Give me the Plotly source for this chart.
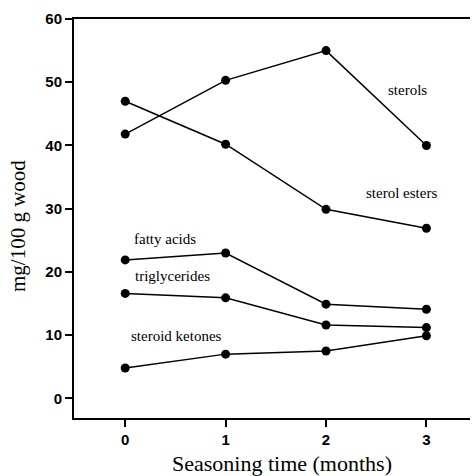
import plotly.graph_objects as go

months = [0, 1, 2, 3]
sterols = [41.8, 50.3, 55.0, 40.0]
sterol_esters = [47.0, 40.2, 29.9, 26.9]
fatty_acids = [21.9, 23.0, 14.9, 14.1]
triglycerides = [16.6, 15.9, 11.6, 11.2]
steroid_ketones = [4.8, 7.0, 7.5, 9.9]

series = [
    ("sterols", sterols),
    ("sterol esters", sterol_esters),
    ("fatty acids", fatty_acids),
    ("triglycerides", triglycerides),
    ("steroid ketones", steroid_ketones),
]

label_text = ["sterols", "sterol esters", "fatty acids", "triglycerides", "steroid ketones"]
label_x = [2.81, 2.75, 0.4, 0.47, 0.51]
label_y = [48.8, 32.5, 25.2, 19.4, 9.8]

x_title = "Seasoning time (months)"
y_title = "mg/100 g wood"

W, H = 472, 476
ML, MR, MT, MB = 74, 2, 19, 58
PW, PH = W - ML - MR, H - MT - MB

fig = go.Figure()
for name, vals in series:
    fig.add_trace(go.Scatter(
        x=months, y=vals, mode="lines+markers", name=name,
        line=dict(color="black", width=1.5),
        marker=dict(color="black", size=9),
        showlegend=False,
    ))

for t, x, y in zip(label_text, label_x, label_y):
    fig.add_annotation(x=x, y=y, text=t, showarrow=False,
                       font=dict(family="Liberation Serif", size=15, color="black"))

fig.add_annotation(xref="paper", yref="paper", x=(282 - ML) / PW, y=(H - MB - 463) / PH,
                   text=x_title, showarrow=False, xanchor="center", yanchor="middle",
                   font=dict(family="Liberation Serif", size=22, color="black"))
fig.add_annotation(xref="paper", yref="paper", x=(18 - ML) / PW, y=(H - MB - 226) / PH,
                   text=y_title, showarrow=False, textangle=-90, xanchor="center", yanchor="middle",
                   font=dict(family="Liberation Serif", size=21, color="black"))

fig.update_layout(
    width=W, height=H,
    margin=dict(l=ML, r=MR, t=MT, b=MB),
    plot_bgcolor="white", paper_bgcolor="white",
    xaxis=dict(
        range=[-0.51, 3.434], tickvals=months, ticktext=[str(m) for m in months],
        automargin=False,
        showline=True, linecolor="black", linewidth=2, mirror=True,
        ticks="outside", ticklen=7, tickwidth=1.5, tickcolor="black",
        showgrid=False, zeroline=False,
        tickfont=dict(family="Liberation Sans", size=15, color="black", weight="bold"),
    ),
    yaxis=dict(
        range=[-3.1, 60], tickvals=[0, 10, 20, 30, 40, 50, 60],
        automargin=False,
        showline=True, linecolor="black", linewidth=2,
        ticks="outside", ticklen=7, tickwidth=1.5, tickcolor="black",
        showgrid=False, zeroline=False,
        tickfont=dict(family="Liberation Sans", size=15, color="black", weight="bold"),
    ),
)

fig.write_html("out.html", config={"displayModeBar": False},
               post_script="document.body.style.margin='0';document.body.style.overflow='hidden';")
